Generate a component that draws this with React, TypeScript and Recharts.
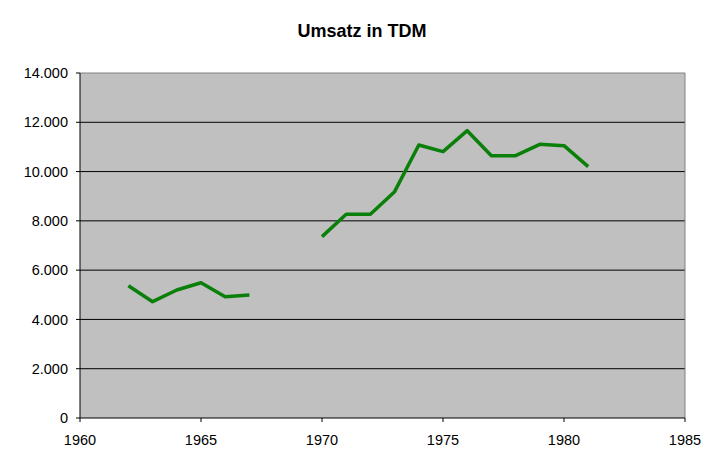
import { LineChart, Line, XAxis, YAxis, CartesianGrid, ReferenceLine } from "recharts";

// Umsatz in TDM, 1968/1969 without values
const years = [1962, 1963, 1964, 1965, 1966, 1967, 1968, 1969, 1970, 1971, 1972, 1973, 1974, 1975, 1976, 1977, 1978, 1979, 1980, 1981];
const umsatz: (number | null)[] = [5370, 4720, 5195, 5490, 4920, 4990, null, null, 7360, 8265, 8265, 9185, 11080, 10810, 11660, 10645, 10645, 11105, 11050, 10200];

const xTicks = [1960, 1965, 1970, 1975, 1980, 1985];
const yTicks = [0, 2000, 4000, 6000, 8000, 10000, 12000, 14000];
const gridValues = [2000, 4000, 6000, 8000, 10000, 12000];

const data = years.map((year, i) => ({ year, umsatz: umsatz[i] }));

const fmt = (v: number) => String(v).replace(/\B(?=(\d{3})+(?!\d))/g, ".");

const font = '"Liberation Sans", Arial, sans-serif';

export default function App() {
  return (
    <div style={{ position: "absolute", left: 0, top: 0, width: 724, height: 476, background: "#fff", fontFamily: font }}>
      <div
        style={{
          position: "absolute",
          top: 21,
          left: 0,
          width: 724,
          textAlign: "center",
          fontWeight: "bold",
          fontSize: 18,
          lineHeight: "21px",
          color: "#000",
        }}
      >
        Umsatz in TDM
      </div>
      <LineChart width={724} height={476} data={data} margin={{ top: 73, right: 39, bottom: 0, left: 0 }}>
        <CartesianGrid
          vertical={false}
          horizontalValues={gridValues}
          stroke="#000"
          fill="#C0C0C0"
          fillOpacity={1}
        />
        <ReferenceLine y={14000} stroke="#808080" />
        <ReferenceLine x={1985} stroke="#808080" />
        <XAxis
          dataKey="year"
          type="number"
          domain={[1960, 1985]}
          ticks={xTicks}
          height={58}
          tickSize={4}
          tickMargin={13}
          axisLine={{ stroke: "#000" }}
          tickLine={{ stroke: "#000" }}
          tick={{ fill: "#000", fontSize: 14.5, fontFamily: font }}
          allowDataOverflow
        />
        <YAxis
          type="number"
          domain={[0, 14000]}
          ticks={yTicks}
          width={80}
          tickSize={4}
          tickMargin={8}
          tickFormatter={fmt}
          axisLine={{ stroke: "#000" }}
          tickLine={{ stroke: "#000" }}
          tick={{ fill: "#000", fontSize: 14.5, fontFamily: font }}
          interval={0}
        />
        <Line
          dataKey="umsatz"
          type="linear"
          stroke="#0A7F0A"
          strokeWidth={3.5}
          dot={false}
          connectNulls={false}
          isAnimationActive={false}
          strokeLinejoin="round"
        />
      </LineChart>
    </div>
  );
}
